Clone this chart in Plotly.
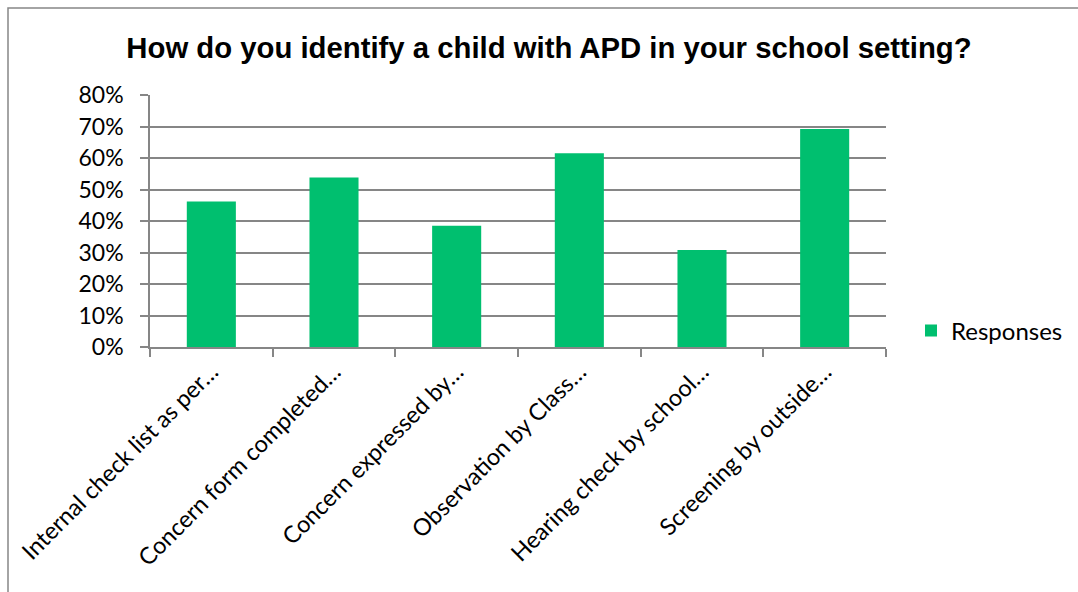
import plotly.graph_objects as go

categories = [
    "Internal check list as per…",
    "Concern form completed…",
    "Concern expressed by…",
    "Observation by Class…",
    "Hearing check by school…",
    "Screening by outside…",
]
responses = [0.462, 0.538, 0.385, 0.615, 0.308, 0.692]
y_ticks = [0, 0.1, 0.2, 0.3, 0.4, 0.5, 0.6, 0.7, 0.8]

W, H = 1078, 592
L, R, T, B = 150, 192, 95, 245
pw, ph = W - L - R, H - T - B

grid = "#868686"
body_font = "Lato"

fig = go.Figure(
    go.Bar(
        x=categories,
        y=responses,
        name="Responses",
        marker=dict(color="#00BF6F", line=dict(width=0)),
        showlegend=True,
    )
)

fig.update_layout(
    width=W,
    height=H,
    margin=dict(l=L, r=R, t=T, b=B, autoexpand=False),
    paper_bgcolor="white",
    plot_bgcolor="white",
    bargap=0.6,
    title=dict(
        text="<b>How do you identify a child with APD in your school setting?</b>",
        x=549 / W,
        xanchor="center",
        y=1 - 48 / H,
        yanchor="middle",
        font=dict(family="Liberation Sans, Arial", size=29.3, color="black"),
    ),
    legend=dict(
        x=(911 - L) / pw,
        xanchor="left",
        y=(H - B - 331) / ph,
        yanchor="middle",
        font=dict(family=body_font, size=24, color="black"),
        itemwidth=30,
        bgcolor="rgba(0,0,0,0)",
    ),
    xaxis=dict(
        tickangle=-45,
        tickson="boundaries",
        ticks="outside",
        ticklen=8,
        tickcolor=grid,
        tickwidth=1.5,
        showline=True,
        linecolor=grid,
        linewidth=1.5,
        showgrid=False,
        tickfont=dict(family=body_font, size=23.5, color="black"),
    ),
    yaxis=dict(
        range=[0, 0.8],
        tickvals=y_ticks,
        tickformat=".0%",
        ticks="outside",
        ticklen=8,
        tickcolor=grid,
        tickwidth=1.5,
        ticklabelstandoff=12,
        showline=True,
        linecolor=grid,
        linewidth=1.5,
        showgrid=True,
        gridcolor=grid,
        gridwidth=1.5,
        zeroline=False,
        tickfont=dict(family=body_font, size=23, color="black"),
    ),
    shapes=[
        dict(
            type="rect",
            xref="paper",
            yref="paper",
            x0=(8 - L) / pw,
            x1=(W + 20 - L) / pw,
            y0=(H - B - (H + 20)) / ph,
            y1=(H - B - 8) / ph,
            line=dict(color=grid, width=1.5),
            fillcolor="rgba(0,0,0,0)",
            layer="below",
        )
    ],
)

fig.write_html("out.html")
